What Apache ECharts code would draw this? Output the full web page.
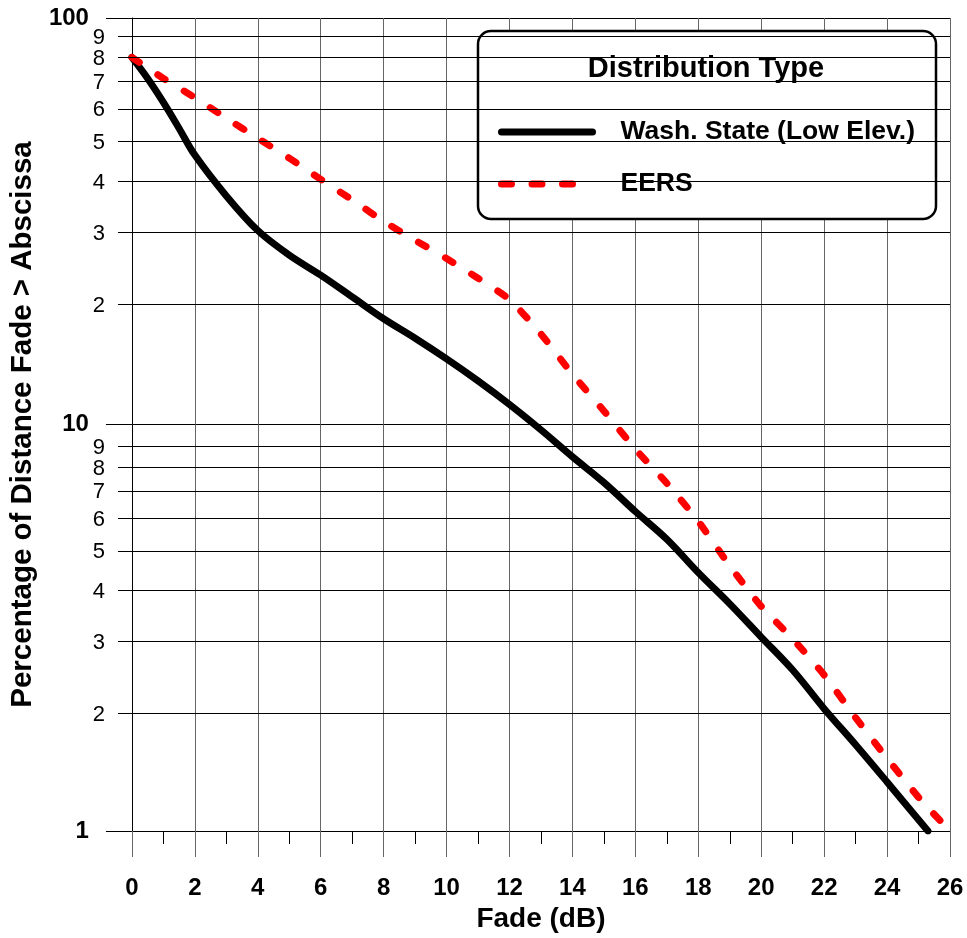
<!DOCTYPE html>
<html>
<head>
<meta charset="utf-8">
<script src="https://cdn.jsdelivr.net/npm/echarts@6/dist/echarts.min.js"></script>
<style>
  html, body { margin: 0; padding: 0; background: #fff; }
  #chart { width: 967px; height: 938px; }
</style>
</head>
<body>
<div id="chart"></div>
<script>
// Fade distributions: percentage of distance with fade exceeding the abscissa
const washFade = [0, 0.5, 1, 1.5, 2, 3, 4, 5, 6, 7, 8, 9, 10, 11, 12, 13, 14, 15, 16, 17, 18, 19, 20, 21, 22, 23, 24, 25.3];
const washPct  = [80, 71, 62, 53.5, 46, 36.5, 30, 26.1, 23.3, 20.6, 18.2, 16.3, 14.5, 12.8, 11.2, 9.7, 8.33, 7.2, 6.11, 5.22, 4.32, 3.62, 3.0, 2.49, 2.0, 1.63, 1.32, 1.0];

const eersFade = [0, 1, 2, 3, 4, 5, 6, 7, 8, 9, 10, 11, 12, 13, 14, 15, 16, 17, 18, 19, 20, 21, 22, 23, 24, 25, 26];
const eersPct  = [80, 71, 63.7, 56.7, 50.6, 45.2, 40.1, 35.7, 31.6, 28.4, 25.6, 22.9, 20.3, 16.7, 13.3, 10.8, 8.7, 7.17, 5.78, 4.49, 3.57, 2.97, 2.42, 1.9, 1.51, 1.21, 1.0];

const seriesNames = ['Wash. State (Low Elev.)', 'EERS'];
const legendTitle = 'Distribution Type';
const xTitle = 'Fade (dB)';
const yTitle = 'Percentage of Distance Fade > Abscissa';

// Intermediate log-cycle gridlines and their labels
const minorValues = [2, 3, 4, 5, 6, 7, 8, 9, 20, 30, 40, 50, 60, 70, 80, 90];
const minorLabels = ['2', '3', '4', '5', '6', '7', '8', '9', '2', '3', '4', '5', '6', '7', '8', '9'];

const FONT = "'Liberation Sans', Arial, Helvetica, sans-serif";
const X_MIN = 0, X_MAX = 26;

const chart = echarts.init(document.getElementById('chart'), null, { renderer: 'canvas' });

const minorLines = minorValues.map((v, i) => ({ name: minorLabels[i], yAxis: v }));

chart.setOption({
  animation: false,
  backgroundColor: '#fff',
  textStyle: { fontFamily: FONT, color: '#000' },
  grid: [
    { left: 131, right: 17, top: 18, bottom: 101, containLabel: false },
    // slightly wider twin grid so the intermediate lines reach past the axis
    { left: 118, right: 17, top: 18, bottom: 101, containLabel: false }
  ],
  xAxis: [{
    type: 'value',
    gridIndex: 0,
    min: X_MIN, max: X_MAX, interval: 2,
    name: xTitle,
    nameLocation: 'middle',
    nameGap: 74,
    nameTextStyle: { fontFamily: FONT, fontSize: 28, fontWeight: 'bold', color: '#000' },
    axisLine: { show: true, onZero: false, lineStyle: { color: '#000', width: 1 } },
    axisTick: { show: true, length: 26, lineStyle: { color: '#666', width: 1 } },
    minorTick: { show: true, splitNumber: 2, length: 13, lineStyle: { color: '#000', width: 1 } },
    axisLabel: { margin: 45, fontFamily: FONT, fontSize: 24, fontWeight: 'bold', color: '#000' },
    splitLine: { show: true, lineStyle: { color: '#666', width: 1 } }
  }, {
    type: 'value', gridIndex: 1, min: 0, max: 1, show: false
  }],
  yAxis: [{
    type: 'log',
    gridIndex: 0,
    logBase: 10,
    min: 1, max: 100,
    name: yTitle,
    nameLocation: 'middle',
    nameGap: 91,
    nameRotate: 90,
    nameTextStyle: { fontFamily: FONT, fontSize: 29.5, fontWeight: 'bold', color: '#000' },
    axisLine: { show: true, lineStyle: { color: '#000', width: 1 } },
    axisTick: { show: true, length: 26, lineStyle: { color: '#000', width: 1 } },
    axisLabel: {
      margin: 43, fontFamily: FONT, fontSize: 24, fontWeight: 'bold', color: '#000',
      formatter: v => String(Math.round(v))
    },
    splitLine: { show: true, lineStyle: { color: '#000', width: 1 } }
  }, {
    type: 'log', gridIndex: 1, logBase: 10, min: 1, max: 100, show: false
  }],
  legend: {
    orient: 'vertical',
    left: 498, top: 117,
    padding: 0,
    itemWidth: 91, itemHeight: 30,
    itemGap: 22,
    selectedMode: false,
    textStyle: {
      fontFamily: FONT, fontSize: 26.5, fontWeight: 'bold', color: '#000',
      lineHeight: 30, padding: [0, 0, 0, 23]
    },
    data: [
      { name: seriesNames[0], itemStyle: { opacity: 0 }, lineStyle: { width: 7, cap: 'round' } },
      { name: seriesNames[1], itemStyle: { opacity: 0 }, lineStyle: { width: 7, cap: 'round', type: [10, 20.5] } }
    ]
  },
  graphic: [
    {
      type: 'rect', z: 3, silent: true,
      shape: { x: 478, y: 31, width: 458, height: 188, r: 13 },
      style: { fill: '#fff', stroke: '#000', lineWidth: 2.5 }
    },
    {
      type: 'text', z: 5, silent: true,
      x: 706, y: 69,
      style: {
        text: legendTitle, fill: '#000',
        font: 'bold 29px ' + FONT,
        textAlign: 'center', textVerticalAlign: 'middle'
      }
    }
  ],
  series: [
    {
      // carrier for the intermediate log gridlines
      type: 'line', z: 1, silent: true,
      xAxisIndex: 1, yAxisIndex: 1,
      data: [[0, 1]],
      showSymbol: false, symbol: 'none',
      lineStyle: { width: 0, opacity: 0 },
      markLine: {
        silent: true,
        symbol: ['none', 'none'],
        animation: false,
        lineStyle: { color: '#000', width: 1, type: 'solid' },
        label: {
          show: true, position: 'start', distance: 13,
          formatter: '{m|{b}}',
          rich: { m: { fontFamily: FONT, fontSize: 22, color: '#000', padding: [3, 0, 0, 0] } }
        },
        emphasis: { disabled: true },
        data: minorLines
      }
    },
    {
      name: seriesNames[0],
      type: 'line',
      z: 3,
      data: washFade.map((x, i) => [x, washPct[i]]),
      showSymbol: false, symbol: 'none',
      smooth: 0.35,
      lineStyle: { color: '#000', width: 7, cap: 'round', join: 'round' },
      itemStyle: { color: '#000' }
    },
    {
      name: seriesNames[1],
      type: 'line',
      z: 3,
      data: eersFade.map((x, i) => [x, eersPct[i]]),
      showSymbol: false, symbol: 'none',
      smooth: 0.2,
      lineStyle: { color: '#ff0000', width: 7, cap: 'round', join: 'round', type: [9, 22] },
      itemStyle: { color: '#ff0000' }
    }
  ]
});
</script>
</body>
</html>
